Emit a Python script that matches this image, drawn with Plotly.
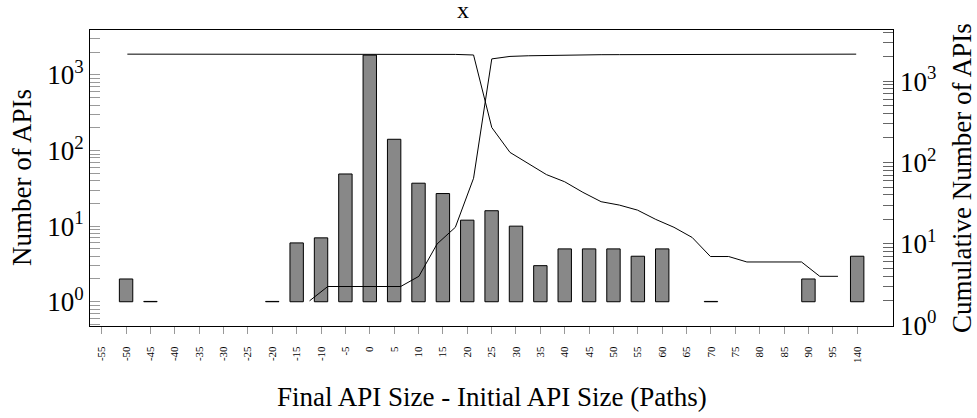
import plotly.graph_objects as go

# ---- data ----
categories = ["-55", "-50", "-45", "-40", "-35", "-30", "-25", "-20", "-15", "-10",
              "-5", "0", "5", "10", "15", "20", "25", "30", "35", "40", "45", "50",
              "55", "60", "65", "70", "75", "80", "85", "90", "95", "140"]
api_counts = [0, 2, 1, 0, 0, 0, 0, 1, 6, 7,
              49, 1833, 141, 37, 27, 12, 16, 10, 3, 5, 5, 5,
              4, 5, 0, 1, 0, 0, 0, 2, 0, 4]

# cumulative lines (own x scale of the secondary axis)
asc_x = [10, 11, 12, 13, 14, 15, 16, 17, 18, 19, 20, 21, 22, 23, 24, 25, 26, 27, 28, 29,
         30, 31, 32, 33, 34, 35, 36, 37, 38, 39, 40]
asc_y = [2, 3, 3, 3, 3, 3, 4, 10, 16, 64, 1871, 2007, 2044, 2069, 2082, 2097, 2107, 2110,
         2114, 2120, 2124, 2128, 2133, 2133, 2134, 2134, 2134, 2134, 2136, 2136, 2140]
desc_x = [0, 1, 2, 3, 4, 5, 6, 7, 8, 9, 10, 11, 12, 13, 14, 15, 16, 17, 18, 19, 20, 21,
          22, 23, 24, 25, 26, 27, 28, 29, 30, 31, 32, 33, 34, 35, 36, 37, 38, 39]
desc_y = [2140, 2140, 2140, 2140, 2140, 2140, 2140, 2140, 2140, 2140, 2138, 2137, 2137,
          2137, 2137, 2137, 2136, 2130, 2124, 2090, 269, 133, 96, 71, 58, 43, 33, 30, 26,
          20, 16, 12, 7, 7, 6, 6, 6, 6, 4, 4]

major_vals = [1, 10, 100, 1000]
major_text = ["10<sup>0</sup>", "10<sup>1</sup>", "10<sup>2</sup>", "10<sup>3</sup>"]

FONT = "Liberation Serif"
TITLE_SIZE = 27

positions = list(range(len(categories)))
bar_len = [None if v == 0 else (v - 1 if v > 1 else 0.01) for v in api_counts]
minor_vals = [m * d for d in [0.1, 1, 10, 100, 1000] for m in range(2, 10)]

fig = go.Figure()
fig.add_trace(go.Bar(
    x=positions, y=bar_len, base=[1] * len(positions), width=0.55,
    marker=dict(color="#888888", line=dict(color="black", width=1)),
    xaxis="x", yaxis="y", showlegend=False))
fig.add_trace(go.Scatter(x=asc_x, y=asc_y, mode="lines",
                         line=dict(color="black", width=1),
                         xaxis="x2", yaxis="y2", showlegend=False))
fig.add_trace(go.Scatter(x=desc_x, y=desc_y, mode="lines",
                         line=dict(color="black", width=1),
                         xaxis="x2", yaxis="y2", showlegend=False))

# plot area (page pixels): left 90, right 893, top 30, bottom 326
PW, PH = 803, 296
xr = [-0.48, 32.47]
fig.update_layout(
    width=977, height=418,
    margin=dict(l=90, r=84, t=30, b=92),
    paper_bgcolor="white", plot_bgcolor="white",
    font=dict(family=FONT, color="black"),
    xaxis=dict(range=xr, tickmode="array", tickvals=positions, ticktext=categories,
               tickangle=-90, ticks="outside", ticklen=7, tickcolor="#999999",
               tickfont=dict(size=11, family=FONT), ticklabelstandoff=8,
               showline=True, mirror=True, linecolor="black", linewidth=1,
               showgrid=False, zeroline=False),
    xaxis3=dict(range=xr, overlaying="x", anchor="y", side="top", tickmode="array",
                tickvals=positions, ticks="outside", ticklen=10, tickcolor="#999999",
                showticklabels=False, showline=False, showgrid=False, zeroline=False),
    xaxis2=dict(range=[-2.05, 42.02], overlaying="x", anchor="y2", visible=False),
    yaxis=dict(type="log", range=[-0.321, 3.595], tickmode="array", tickvals=major_vals,
               ticktext=major_text, ticks="inside", ticklen=10, tickcolor="#999999",
               minor=dict(tickmode="array", tickvals=minor_vals, ticks="inside",
                          ticklen=10, tickcolor="#999999"),
               tickfont=dict(size=TITLE_SIZE, family=FONT),
               showline=True, mirror=True, linecolor="black", linewidth=1,
               showgrid=False, zeroline=False),
    yaxis2=dict(type="log", range=[-0.008, 3.627], overlaying="y", side="right",
                anchor="x", tickmode="array", tickvals=major_vals, ticktext=major_text,
                ticks="inside", ticklen=10, tickcolor="#666666", ticklabelstandoff=6,
                minor=dict(tickmode="array", tickvals=minor_vals, ticks="inside",
                           ticklen=10, tickcolor="#666666"),
                tickfont=dict(size=TITLE_SIZE, family=FONT),
                showline=False, showgrid=False, zeroline=False),
    annotations=[
        dict(text="Final API Size - Initial API Size (Paths)", xref="paper", yref="paper",
             x=0.5, y=(326 - 397) / PH, xanchor="center", yanchor="middle",
             showarrow=False, font=dict(size=TITLE_SIZE, family=FONT)),
        dict(text="Number of APIs", xref="paper", yref="paper",
             x=(22 - 90) / PW, y=0.5, textangle=-90, xanchor="center", yanchor="middle",
             showarrow=False, font=dict(size=TITLE_SIZE, family=FONT)),
        dict(text="Cumulative Number of APIs", xref="paper", yref="paper",
             x=(962 - 90) / PW, y=0.5, textangle=-90, xanchor="center", yanchor="middle",
             showarrow=False, font=dict(size=TITLE_SIZE, family=FONT)),
        dict(text="x", xref="paper", yref="paper",
             x=(463 - 90) / PW, y=(326 - 10) / PH, xanchor="center", yanchor="middle",
             showarrow=False, font=dict(size=TITLE_SIZE - 3, family=FONT)),
    ],
)

fig.write_html("out.html", config={"displayModeBar": False},
               post_script="document.body.style.margin='0';")
